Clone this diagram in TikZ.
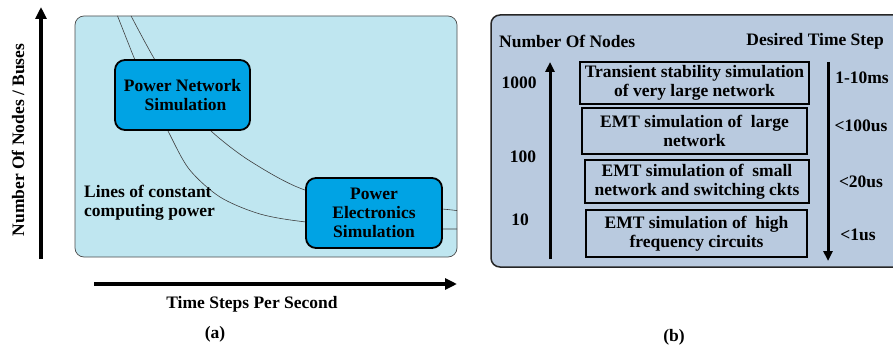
\documentclass[tikz,border=0pt]{standalone}
\usepackage{fontspec}
\setmainfont{Liberation Serif}
\usetikzlibrary{arrows.meta}
\definecolor{lbg}{HTML}{BFE6F0}
\definecolor{simblue}{HTML}{00A3E4}
\definecolor{rbg}{HTML}{B9CADF}
\begin{document}
\begin{tikzpicture}[x=1pt,y=-1pt,
  txt/.style={font=\fontsize{17.5}{18.8}\selectfont\bfseries, inner sep=0pt},
  simbox/.style={txt, draw=black, line width=1.8pt, fill=simblue, rounded corners=10pt, align=center},
  levelbox/.style={txt, draw=black, line width=1.6pt, align=center},
  bigarrow/.style={line width=3.4pt, -{Triangle[length=12pt,width=11pt]}},
  midarrow/.style={line width=3pt, -{Triangle[length=10pt,width=9pt]}},
  curve/.style={draw=black!75, line width=0.6pt}
]
\useasboundingbox (0,0) rectangle (893,347);
\clip (0,0) rectangle (893,347);
\fill[white] (0,0) rectangle (893,347);

% ---------- panel (a) ----------
\node[draw=black!70, line width=0.7pt, fill=lbg, rounded corners=9pt, minimum width=382pt, minimum height=241pt, inner sep=0pt] (panela) at (266,136.5) {};
\begin{scope}
  \clip[rounded corners=9pt] (75,16) rectangle (457,257);
  \draw[curve] plot[smooth] coordinates {(116,12) (135,60) (151,97) (168,131) (189,169) (220,197) (260,214) (306,222) (380,228) (460,229)};
  \draw[curve] plot[smooth] coordinates {(129,12) (155,60) (181,98) (211,131) (250,161) (305,190) (380,204) (442,209) (460,211)};
\end{scope}
\node[simbox, minimum width=135pt, minimum height=70pt] (pn) at (182.5,95) {Power Network\\\hspace*{6pt}Simulation};
\node[simbox, minimum width=136pt, minimum height=70pt] (pe) at (374,213) {Power\\Electronics\\Simulation};
\node[txt, anchor=west, align=left] (lines) at (84,202.5) {Lines of constant\\computing power};

\coordinate (ya0) at (41,259);
\coordinate (ya1) at (41,7);
\draw[bigarrow] (ya0) -- (ya1);
\node[txt, rotate=90] (ylab) at (18,140) {Number Of Nodes / Buses};
\coordinate (xa0) at (94,284);
\coordinate (xa1) at (457,284);
\draw[bigarrow] (xa0) -- (xa1);
\node[txt] (xlab) at (252,304) {Time Steps Per Second};
\node[txt] (capa) at (215,334) {(a)};

% ---------- panel (b) ----------
\node[draw=black!85, line width=1.5pt, fill=rbg, rounded corners=9pt, minimum width=420pt, minimum height=252pt, inner sep=0pt] (panelb) at (701,141) {};
\node[txt, anchor=west] (non) at (499,41) {Number Of Nodes};
\node[txt, anchor=east] (dts) at (884,41) {Desired Time Step};

\coordinate (ua0) at (550,259);
\coordinate (ua1) at (550,62);
\draw[midarrow] (ua0) -- (ua1);
\coordinate (da0) at (828,62);
\coordinate (da1) at (828,261);
\draw[midarrow] (da0) -- (da1);

\node[txt] (n1000) at (519,83) {1000};
\node[txt] (n100) at (523,157) {100};
\node[txt] (n10) at (520,220) {10};

\node[txt] (t1) at (862,78) {1-10ms};
\node[txt] (t2) at (861,126) {<100us};
\node[txt] (t3) at (861,182) {<20us};
\node[txt] (t4) at (858,235) {<1us};

\node[levelbox, minimum width=229pt, minimum height=42pt] (b1) at (694.5,83) {Transient stability simulation\\of very large network};
\node[levelbox, minimum width=225pt, minimum height=46pt] (b2) at (694.5,131) {EMT simulation of~ large\\network};
\node[levelbox, minimum width=224pt, minimum height=43pt] (b3) at (697,181.5) {EMT simulation of~ small\\network and switching ckts};
\node[levelbox, minimum width=221pt, minimum height=47pt] (b4) at (696.5,233.5) {EMT simulation of~ high\\frequency circuits};

\node[txt] (capb) at (674,337) {(b)};
\end{tikzpicture}
\end{document}
